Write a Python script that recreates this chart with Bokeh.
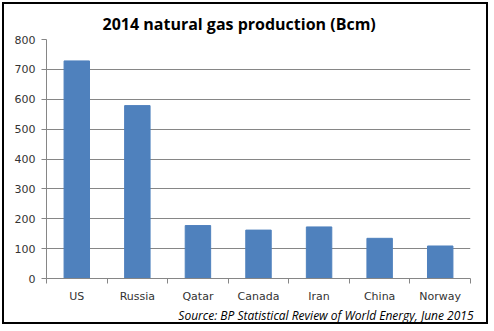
from bokeh.plotting import figure
from bokeh.models import FixedTicker, Title, Range1d, ColumnDataSource
from bokeh.embed import file_html
from bokeh.resources import INLINE

countries = ["US", "Russia", "Qatar", "Canada", "Iran", "China", "Norway"]
production = [728.3, 578.7, 177.2, 162.0, 172.6, 134.5, 108.8]
y_ticks = [0, 100, 200, 300, 400, 500, 600, 700, 800]
title_text = "2014 natural gas production (Bcm)"
source_text = "Source: BP Statistical Review of World Energy, June 2015"

xpos = [i + 0.5 for i in range(len(countries))]
src = ColumnDataSource(dict(x=xpos, top=production, name=countries))

p = figure(width=486, height=322, output_backend="svg", toolbar_location=None,
           x_range=Range1d(0, len(countries)), y_range=Range1d(0, 800),
           min_border_left=42, min_border_right=20, min_border_top=35, min_border_bottom=48)
p.styles = {"border": "2px solid black", "margin": "2px 0 0 2px"}
p.outline_line_color = None
p.background_fill_color = "white"
p.border_fill_color = "white"

p.vbar(x="x", top="top", width=0.42, source=src, color="#4F81BD")

grid_color = "#868686"
lab_font = "DejaVu Sans"
lab_color = "#333333"

p.yaxis.ticker = FixedTicker(ticks=y_ticks)
p.yaxis.axis_line_color = grid_color
p.yaxis.major_tick_line_color = grid_color
p.yaxis.major_tick_out = 5
p.yaxis.major_tick_in = 0
p.yaxis.minor_tick_line_color = None
p.yaxis.major_label_text_font = lab_font
p.yaxis.major_label_text_font_size = "11px"
p.yaxis.major_label_text_color = lab_color
p.yaxis.major_label_standoff = 6

p.xaxis.ticker = FixedTicker(ticks=xpos, minor_ticks=list(range(len(countries) + 1)))
p.xaxis.major_label_overrides = {x: c for x, c in zip(xpos, countries)}
p.xaxis.axis_label = None
p.xaxis.axis_label_standoff = 0
p.xaxis.axis_line_color = grid_color
p.xaxis.major_tick_line_color = None
p.xaxis.minor_tick_line_color = grid_color
p.xaxis.minor_tick_out = 5
p.xaxis.minor_tick_in = 0
p.xaxis.major_label_text_font = lab_font
p.xaxis.major_label_text_font_size = "11px"
p.xaxis.major_label_text_color = lab_color
p.xaxis.major_label_standoff = 5

p.xgrid.grid_line_color = None
p.ygrid.ticker = FixedTicker(ticks=y_ticks)
p.ygrid.grid_line_color = grid_color

p.title = Title(text=title_text, align="left", offset=56, text_font="Open Sans",
                text_font_style="bold", text_font_size="16px", text_color="#000000",
                standoff=10)
p.add_layout(Title(text=source_text, align="right", offset=-3, text_font="Open Sans",
                   text_font_style="italic", text_font_size="12px", text_color="#000000",
                   vertical_align="top", standoff=2), "below")

open("out.html", "w").write(file_html(p, INLINE))
